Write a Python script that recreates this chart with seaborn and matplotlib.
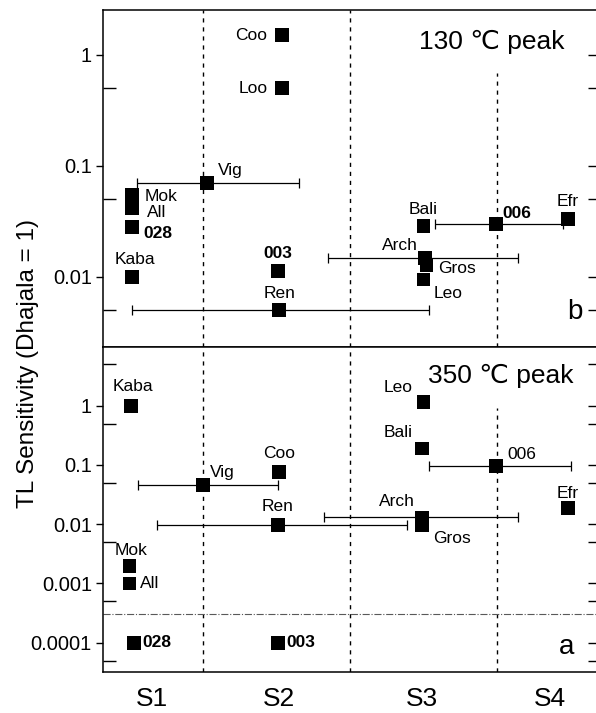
import numpy as np
import pandas as pd
import seaborn as sns
import matplotlib.pyplot as plt
from matplotlib.ticker import FixedLocator, NullFormatter

# 130 C peak (panel b): sample, stage position, TL sensitivity
names_b = ['Coo', 'Loo', 'Vig', 'Mok', 'All', '028', 'Kaba', '003', 'Ren',
           'Bali', '006', 'Efr', 'Arch', 'Gros', 'Leo']
x_b = [2.04, 2.04, 1.53, 1.02, 1.02, 1.02, 1.02, 2.01, 2.02,
       3.00, 3.49, 3.98, 3.01, 3.02, 3.00]
y_b = [1.5, 0.5, 0.07, 0.055, 0.042, 0.028, 0.01, 0.0113, 0.005,
       0.029, 0.030, 0.033, 0.0148, 0.0128, 0.0095]

# 350 C peak (panel a)
names_a = ['Kaba', 'Coo', 'Vig', 'Ren', 'Mok', 'All', '028', '003',
           'Leo', 'Bali', '006', 'Efr', 'Arch', 'Gros']
x_a = [1.01, 2.02, 1.50, 2.01, 1.00, 1.00, 1.03, 2.01,
       3.00, 2.99, 3.49, 3.98, 2.99, 2.99]
y_a = [1.0, 0.076, 0.046, 0.0098, 0.002, 0.001, 0.0001, 0.0001,
       1.15, 0.19, 0.096, 0.0187, 0.013, 0.0098]

# shock stage ranges
err_b = ['Vig', 'Ren', '006', 'Arch']
err_b_lo = [1.05, 1.02, 3.08, 2.35]
err_b_hi = [2.15, 3.04, 3.95, 3.64]
err_a = ['Vig', 'Ren', '006', 'Arch']
err_a_lo = [1.06, 1.19, 3.04, 2.32]
err_a_hi = [2.01, 2.89, 4.00, 3.64]

stages = ['S1', 'S2', 'S3', 'S4']
stage_pos = [1.15, 2.02, 2.99, 3.86]
stage_bounds = [1.5, 2.5, 3.5]
detect_limit = 3e-4

# label offsets in pixels (dx, dy, ha)
lab_b = {'Coo': (-15, 0, 'right'), 'Loo': (-15, 0, 'right'), 'Vig': (11, 13, 'left'),
         'Mok': (12, -2, 'left'), 'All': (15, -5, 'left'), '028': (11, -6, 'left'),
         'Kaba': (3, 17, 'center'), '003': (0, 18, 'center'), 'Ren': (0, 17, 'center'),
         'Bali': (0, 16, 'center'), '006': (7, 11, 'left'), 'Efr': (0, 18, 'center'),
         'Arch': (-7, 13, 'right'), 'Gros': (12, -3, 'left'), 'Leo': (10, -14, 'left')}
lab_a = {'Kaba': (2, 19, 'center'), 'Coo': (0, 19, 'center'), 'Vig': (7, 12, 'left'),
         'Ren': (0, 18, 'center'), 'Mok': (2, 15, 'center'), 'All': (11, 0, 'left'),
         '028': (9, 0, 'left'), '003': (8, 0, 'left'), 'Leo': (-25, 15, 'center'),
         'Bali': (-24, 16, 'center'), '006': (12, 12, 'left'), 'Efr': (0, 15, 'center'),
         'Arch': (-25, 16, 'center'), 'Gros': (11, -14, 'left')}
bold_b = ['028', '003', '006']
bold_a = ['028', '003']

sns.set_style('white')
plt.rcParams['font.family'] = ['Liberation Sans', 'DejaVu Sans']
plt.rcParams.update({'text.color': 'black', 'axes.labelcolor': 'black',
                     'xtick.color': 'black', 'ytick.color': 'black'})

fig = plt.figure(figsize=(5.96, 7.13), dpi=100)
ax_b = fig.add_axes([0.1728, 0.5133, 0.8272, 0.4727])
ax_a = fig.add_axes([0.1728, 0.0575, 0.8272, 0.4558])


def draw_panel(ax, names, xs, ys, err, lo, hi, labels, bold, ylim, majors, minors):
    df = pd.DataFrame({'name': names, 'x': xs, 'y': ys})
    ax.set_yscale('log')
    ax.set_xlim(0.82, 4.173)
    ax.set_ylim(*ylim)

    for b in stage_bounds:
        top = 0.812 if b == stage_bounds[-1] else 1.0
        ax.axvline(b, ymax=top, color='black', lw=1.0, ls=(0, (3, 3.5)), zorder=1)

    e = df.set_index('name').loc[err]
    ex = e['x'].values
    ax.errorbar(ex, e['y'].values, xerr=[ex - np.array(lo), np.array(hi) - ex],
                fmt='none', ecolor='black', elinewidth=0.9, capsize=3.6,
                capthick=0.9, zorder=2)

    sns.scatterplot(data=df, x='x', y='y', marker='s', s=100, color='black',
                    edgecolor='none', ax=ax, zorder=3, legend=False)

    for n, x, y in zip(names, xs, ys):
        dx, dy, ha = labels[n]
        ax.annotate(n, (x, y), xytext=(dx, dy), textcoords='offset pixels',
                    ha=ha, va='center', fontsize=12.5, color='black',
                    fontweight='bold' if n in bold else 'normal')

    ax.set_xlabel('')
    ax.set_ylabel('')
    ax.set_yticks(majors)
    ax.set_yticklabels([('%g' % v) if v >= 0.001 else '0.0001' for v in majors],
                       fontsize=14.5)
    ax.yaxis.set_minor_locator(FixedLocator(minors))
    ax.yaxis.set_minor_formatter(NullFormatter())
    ax.tick_params(axis='y', which='major', direction='out', length=5, width=1,
                   left=True, right=False, pad=3)
    ax.tick_params(axis='y', which='minor', direction='in', length=9, width=1,
                   left=True, right=False)
    ax.tick_params(axis='x', length=0)
    for s in ['left', 'top', 'bottom']:
        ax.spines[s].set_linewidth(1.1)
        ax.spines[s].set_color('black')
    ax.spines['right'].set_visible(False)

    tw = ax.twinx()
    tw.set_yscale('log')
    tw.set_ylim(*ylim)
    tw.yaxis.set_major_locator(FixedLocator(sorted(majors + minors)))
    tw.yaxis.set_minor_locator(FixedLocator([]))
    tw.set_yticklabels([])
    tw.tick_params(axis='y', which='major', direction='in', length=6, width=1)
    for s in tw.spines.values():
        s.set_visible(False)
    tw.grid(False)
    ax.grid(False)


draw_panel(ax_b, names_b, x_b, y_b, err_b, err_b_lo, err_b_hi, lab_b, bold_b,
           (0.00234, 2.54), [1, 0.1, 0.01], [0.5, 0.05, 0.005])
draw_panel(ax_a, names_a, x_a, y_a, err_a, err_a_lo, err_a_hi, lab_a, bold_a,
           (3.2e-5, 9.8), [1, 0.1, 0.01, 0.001, 0.0001],
           [5, 0.5, 0.05, 0.005, 0.0005, 0.00005])

ax_b.set_xticks([])
ax_a.set_xticks(stage_pos)
ax_a.set_xticklabels(stages, fontsize=19)
ax_a.tick_params(axis='x', pad=11)

ax_a.axhline(detect_limit, color='0.35', lw=0.8, ls='-.', zorder=1)

ax_b.text(0.64, 0.905, '130 ℃ peak', transform=ax_b.transAxes, fontsize=19,
          ha='left', va='center')
ax_b.text(0.958, 0.104, 'b', transform=ax_b.transAxes, fontsize=20,
          ha='center', va='center')
ax_a.text(0.66, 0.91, '350 ℃ peak', transform=ax_a.transAxes, fontsize=19,
          ha='left', va='center')
ax_a.text(0.94, 0.077, 'a', transform=ax_a.transAxes, fontsize=20,
          ha='center', va='center')

fig.text(28 / 596, 1 - 364 / 713, 'TL Sensitivity (Dhajala = 1)', rotation=90,
         ha='center', va='center', fontsize=17.5)

fig.savefig('out.png', dpi=100)
